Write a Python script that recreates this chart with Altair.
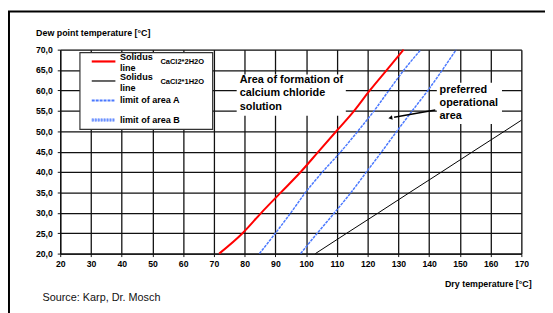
import altair as alt
import pandas as pd

# ---------------- data ----------------
dew_point = [20, 25, 30, 35, 40, 45, 50, 55, 60, 65, 70]
solidus_2h2o_dry = [71.7, 79.3, 85.4, 91.8, 98.2, 104.0, 109.8, 115.6, 120.7, 126.2, 131.7]
limit_a_dry = [84.8, 90.0, 95.0, 99.8, 105.3, 111.3, 116.8, 122.1, 126.9, 131.8, 137.3]
limit_b_dry = [98.2, 103.6, 109.2, 114.6, 119.6, 124.6, 129.5, 134.5, 139.6, 144.3, 148.8]
solidus_1h2o_dew = [20, 25, 30, 35, 40, 45, 50, 52.7]
solidus_1h2o_dry = [103.0, 113.2, 123.5, 133.7, 144.0, 154.2, 164.5, 170.0]

x_ticks = [20, 30, 40, 50, 60, 70, 80, 90, 100, 110, 120, 130, 140, 150, 160, 170]
y_ticks = [20, 25, 30, 35, 40, 45, 50, 55, 60, 65, 70]

legend_labels = ["Solidus\nline", "Solidus\nline", "limit of area A", "limit of area B"]
legend_notes = ["CaCl2*2H2O", "CaCl2*1H2O"]
note_area = "Area of formation of\ncalcium chloride\nsolution"
note_pref = "preferred\noperational\narea"
source_text = "Source: Karp, Dr. Mosch"
x_title = "Dry temperature [°C]"
y_title = "Dew point temperature [°C]"

# ---------------- tables ----------------
rows = []
for d, x in zip(dew_point, solidus_2h2o_dry):
    rows.append({"series": "s2", "dry": x, "dew": d})
for d, x in zip(solidus_1h2o_dew, solidus_1h2o_dry):
    rows.append({"series": "s1", "dry": x, "dew": d})
for d, x in zip(dew_point, limit_a_dry):
    rows.append({"series": "a", "dry": x, "dew": d})
for d, x in zip(dew_point, limit_b_dry):
    rows.append({"series": "b", "dry": x, "dew": d})
lines_df = pd.DataFrame(rows)
one = pd.DataFrame({"k": [0]})

FONT = "Liberation Sans, Arial, sans-serif"
RED = "#ff0000"
BLUE = "#4a78ff"
W, H = 468, 207

xs = alt.Scale(domain=[20, 170], nice=False, zero=False)
ys = alt.Scale(domain=[20, 70], nice=False, zero=False)
x_axis = alt.Axis(values=x_ticks, grid=True, gridColor="#111", gridWidth=1.3,
                  domainColor="#111", domainWidth=1.3, tickColor="#111", tickSize=3,
                  labelFont=FONT, labelFontWeight="bold", labelFontSize=8.8,
                  labelColor="black", labelFlush=False, labelOverlap=False,
                  labelPadding=3,
                  title=x_title, titleFont=FONT, titleFontWeight="bold", titleFontSize=9,
                  titleColor="black", titleAlign="right", titleX=478, titleY=30,
                  titleBaseline="middle")
y_axis = alt.Axis(values=y_ticks, grid=True, gridColor="#111", gridWidth=1.3,
                  domainColor="#111", domainWidth=1.3, tickColor="#111", tickSize=3,
                  labelFont=FONT, labelFontWeight="bold", labelFontSize=8.8,
                  labelColor="black", labelPadding=5,
                  labelExpr="replace(format(datum.value, '.1f'), '.', ',')",
                  title=y_title, titleFont=FONT, titleFontWeight="bold", titleFontSize=9,
                  titleColor="black", titleAngle=0, titleAlign="left", titleX=-25, titleY=-17,
                  titleBaseline="middle")
X = alt.X("dry:Q", scale=xs, axis=x_axis)
Y = alt.Y("dew:Q", scale=ys, axis=y_axis)

base = alt.Chart(lines_df).encode(x=X, y=Y, order="dew:Q")
red_line = base.transform_filter("datum.series == 's2'").mark_line(
    color=RED, strokeWidth=2, interpolate="monotone")
black_line = base.transform_filter("datum.series == 's1'").mark_line(color="black", strokeWidth=1)
a_line = base.transform_filter("datum.series == 'a'").mark_line(
    color=BLUE, strokeWidth=1.5, strokeDash=[3, 1], interpolate="monotone")
b_line = base.transform_filter("datum.series == 'b'").mark_line(
    color=BLUE, strokeWidth=1.5, strokeDash=[3, 1], interpolate="monotone")

layers = [red_line, black_line, a_line, b_line]

# ---------------- annotation boxes (data coordinates) ----------------
box_df = pd.DataFrame({"dry": [77.4, 142.5], "dry2": [112.9, 163.7],
                       "dew": [63.9, 61.9], "dew2": [53.8, 51.8]})
layers.append(alt.Chart(box_df).mark_rect(fill="white").encode(
    x=X, x2="dry2:Q", y=Y, y2="dew2:Q"))

# y of the first text line in each box
txt_df = pd.DataFrame({"dry": [78.4, 143.4], "dew": [62.45, 60.1], "t": [note_area, note_pref]})
layers.append(alt.Chart(txt_df).mark_text(
    align="left", baseline="middle", font=FONT, fontWeight="bold", fontSize=11,
    lineBreak="\n", lineHeight=13.3, color="black").encode(x=X, y=Y, text="t:N"))

arrow_df = pd.DataFrame({"dry": [142.0], "dew": [55.2], "dry2": [128.6], "dew2": [53.45]})
layers.append(alt.Chart(arrow_df).mark_rule(color="black", strokeWidth=1.5).encode(
    x=X, y=Y, x2="dry2:Q", y2="dew2:Q"))
head_df = pd.DataFrame({"dry": [127.6], "dew": [53.3]})
layers.append(alt.Chart(head_df).mark_point(shape="triangle", filled=True, color="black",
                                            size=22, angle=261, opacity=1).encode(x=X, y=Y))

# ---------------- legend (drawn manually, Excel style) ----------------
layers.append(alt.Chart(one).mark_rect(fill="white", stroke="#333", strokeWidth=1.2).encode(
    x=alt.value(20), x2=alt.value(154.7), y=alt.value(3), y2=alt.value(81)))
row_y = [12 + i * 19.8 for i in range(4)]
sym_styles = [dict(color=RED, strokeWidth=2.2),
              dict(color="#222", strokeWidth=1.4),
              dict(color=BLUE, strokeWidth=2, strokeDash=[3, 1]),
              dict(color=BLUE, strokeWidth=3, strokeDash=[2, 1])]
for i, lab in enumerate(legend_labels):
    yy = row_y[i]
    layers.append(alt.Chart(one).mark_rule(**sym_styles[i]).encode(
        x=alt.value(32), x2=alt.value(56), y=alt.value(yy)))
    layers.append(alt.Chart(one).mark_text(
        align="left", baseline="middle", font=FONT, fontWeight="bold", fontSize=9.2,
        lineBreak="\n", lineHeight=10.7, color="black", text=lab).encode(
        x=alt.value(60.7), y=alt.value(yy - (4 if "\n" in lab else 0))))
layers.append(alt.Chart(one).mark_rule(color="#c8d6ff", strokeWidth=1, strokeDash=[1, 2]).encode(
    x=alt.value(32), x2=alt.value(56), y=alt.value(row_y[3])))
for i, note in enumerate(legend_notes):
    layers.append(alt.Chart(one).mark_text(
        align="left", baseline="middle", font=FONT, fontWeight="bold", fontSize=7.6,
        color="black", text=note).encode(x=alt.value(101.7), y=alt.value(row_y[i] + 0.7)))

# ---------------- source and outer frame ----------------
layers.append(alt.Chart(one).mark_text(
    align="left", baseline="middle", font=FONT, fontSize=11, color="#111",
    text=source_text).encode(x=alt.value(-18), y=alt.value(252)))
layers.append(alt.Chart(one).mark_rect(fillOpacity=0, stroke="black", strokeWidth=2).encode(
    x=alt.value(-52), x2=alt.value(700), y=alt.value(-38.7), y2=alt.value(600)))

chart = alt.layer(*layers).properties(
    width=W, height=H,
    padding={"left": 53, "top": 40, "right": 24, "bottom": 58},
    autosize=alt.AutoSizeParams(type="none"),
).configure_view(fill="#e3e3e3", stroke="#555", strokeWidth=1).configure(background="white")

chart.save("out.html", embed_options={"renderer": "svg", "actions": False})
